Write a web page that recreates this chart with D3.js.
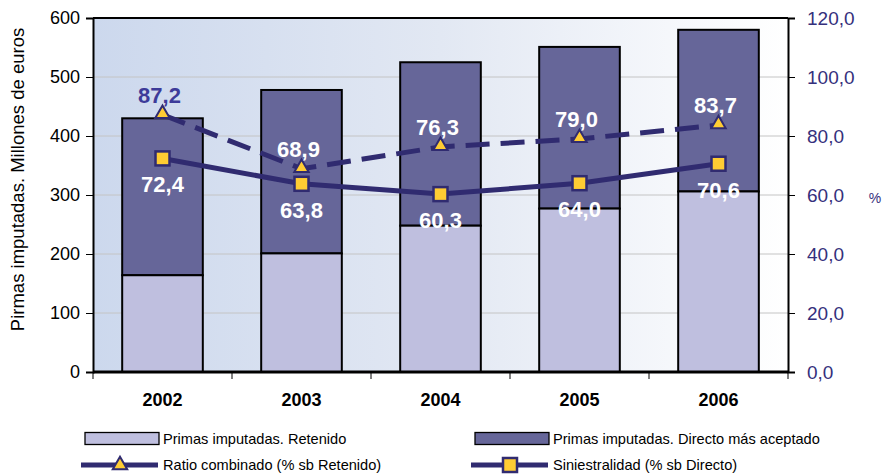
<!DOCTYPE html>
<html>
<head>
<meta charset="utf-8">
<script src="https://cdn.jsdelivr.net/npm/d3@7"></script>
<style>
  body { margin: 0; background: #fff; }
  svg { display: block; font-family: "Liberation Sans", Arial, sans-serif; }
  .grid line { stroke: #c4c4c4; stroke-width: 1; }
  .axis path, .axis line { stroke: #000; }
</style>
</head>
<body>
<svg id="chart" width="884" height="474"></svg>
<script>
const years = ['2002', '2003', '2004', '2005', '2006'];
const retenido = [164, 201, 248, 277, 306];
const directoTotal = [430, 478, 525, 551, 580];
const ratioCombinado = [87.2, 68.9, 76.3, 79.0, 83.7];
const siniestralidad = [72.4, 63.8, 60.3, 64.0, 70.6];
const leftTicks = [0, 100, 200, 300, 400, 500, 600];
const rightTicks = [0, 20, 40, 60, 80, 100, 120];

const W = 884, H = 474;
const plot = { left: 93, right: 788, top: 18, bottom: 372 };

const dark = '#666699', light = '#bfbfdf', lineCol = '#302b70', marker = '#ffcc33';
const fmt = d => d.toFixed(1).replace('.', ',');

const svg = d3.select('#chart');

// background gradient of the plot area
const defs = svg.append('defs');
const grad = defs.append('linearGradient').attr('id', 'bg')
  .attr('x1', '0%').attr('x2', '100%').attr('y1', '0%').attr('y2', '0%');
grad.append('stop').attr('offset', '0%').attr('stop-color', '#ccd8ed');
grad.append('stop').attr('offset', '50%').attr('stop-color', '#e2e8f3');
grad.append('stop').attr('offset', '100%').attr('stop-color', '#ffffff');

const x = d3.scaleBand(years, [plot.left, plot.right])
  .paddingInner(0.42).paddingOuter(0.21);
const yL = d3.scaleLinear([0, 600], [plot.bottom, plot.top]);
const yR = d3.scaleLinear([0, 120], [plot.bottom, plot.top]);

svg.append('rect')
  .attr('x', plot.left).attr('y', plot.top)
  .attr('width', plot.right - plot.left).attr('height', plot.bottom - plot.top)
  .attr('fill', 'url(#bg)');

// gridlines
svg.append('g').attr('class', 'grid')
  .selectAll('line').data(leftTicks.filter(d => d > 0 && d < 600)).join('line')
  .attr('x1', plot.left).attr('x2', plot.right)
  .attr('y1', d => yL(d)).attr('y2', d => yL(d));

// frame top
svg.append('line')
  .attr('x1', plot.left).attr('x2', plot.right)
  .attr('y1', plot.top).attr('y2', plot.top)
  .attr('stroke', '#000').attr('stroke-width', 2);

// stacked bars
const bars = svg.append('g');
bars.selectAll('rect.total').data(years).join('rect')
  .attr('class', 'total')
  .attr('x', d => x(d)).attr('width', x.bandwidth())
  .attr('y', (d, i) => yL(directoTotal[i]))
  .attr('height', (d, i) => yL(retenido[i]) - yL(directoTotal[i]))
  .attr('fill', dark).attr('stroke', '#000').attr('stroke-width', 2);
bars.selectAll('rect.ret').data(years).join('rect')
  .attr('class', 'ret')
  .attr('x', d => x(d)).attr('width', x.bandwidth())
  .attr('y', (d, i) => yL(retenido[i]))
  .attr('height', (d, i) => yL(0) - yL(retenido[i]))
  .attr('fill', light).attr('stroke', '#000').attr('stroke-width', 2);

// axes
const leftAxis = svg.append('g').attr('class', 'axis')
  .attr('transform', `translate(${plot.left},0)`)
  .call(d3.axisLeft(yL).tickValues(leftTicks).tickSize(7).tickPadding(6).tickFormat(d3.format('d')));
leftAxis.select('.domain').attr('stroke-width', 2);
leftAxis.selectAll('text').attr('font-size', 18).attr('fill', '#000');

const rightAxis = svg.append('g').attr('class', 'axis')
  .attr('transform', `translate(${plot.right},0)`)
  .call(d3.axisRight(yR).tickValues(rightTicks).tickSize(7).tickPadding(12).tickFormat(fmt));
rightAxis.select('.domain').attr('stroke-width', 2);
rightAxis.selectAll('text').attr('font-size', 19).attr('fill', '#35307c');

const step = x.step();
const bottomAxis = svg.append('g').attr('class', 'axis')
  .attr('transform', `translate(0,${plot.bottom})`);
bottomAxis.append('line')
  .attr('x1', plot.left).attr('x2', plot.right)
  .attr('stroke', '#000').attr('stroke-width', 3);
bottomAxis.selectAll('line.tick').data(d3.range(years.length + 1)).join('line')
  .attr('class', 'tick')
  .attr('x1', i => plot.left + i * step).attr('x2', i => plot.left + i * step)
  .attr('y1', 0).attr('y2', 7).attr('stroke', '#000');
bottomAxis.selectAll('text').data(years).join('text')
  .attr('x', d => x(d) + x.bandwidth() / 2).attr('y', 34)
  .attr('text-anchor', 'middle').attr('font-size', 18).attr('font-weight', 'bold')
  .text(d => d);

// y titles
svg.append('text')
  .attr('transform', `translate(24,${(plot.top + 333) / 2 + 4}) rotate(-90)`)
  .attr('text-anchor', 'middle').attr('font-size', 18.5)
  .text('Pirmas imputadas. Millones de euros');
svg.append('text')
  .attr('x', 875).attr('y', 203).attr('text-anchor', 'middle')
  .attr('font-size', 14).attr('fill', '#35307c').text('%');

// lines
const cx = d => x(d) + x.bandwidth() / 2;
const lineGen = vals => d3.line().x((d, i) => cx(years[i])).y(d => yR(d))(vals);

svg.append('path').attr('d', lineGen(ratioCombinado))
  .attr('fill', 'none').attr('stroke', lineCol).attr('stroke-width', 5)
  .attr('stroke-dasharray', '24,11');
svg.append('path').attr('d', lineGen(siniestralidad))
  .attr('fill', 'none').attr('stroke', lineCol).attr('stroke-width', 5);

const tri = d3.symbol().type(d3.symbolTriangle).size(90);
svg.append('g').selectAll('path').data(ratioCombinado).join('path')
  .attr('transform', (d, i) => `translate(${cx(years[i])},${yR(d) - 1})`)
  .attr('d', tri).attr('fill', marker).attr('stroke', lineCol).attr('stroke-width', 2);

svg.append('g').selectAll('rect').data(siniestralidad).join('rect')
  .attr('x', (d, i) => cx(years[i]) - 7).attr('y', d => yR(d) - 7)
  .attr('width', 14).attr('height', 14)
  .attr('fill', marker).attr('stroke', lineCol).attr('stroke-width', 2.5);

// data labels
svg.append('g').selectAll('text').data(ratioCombinado).join('text')
  .attr('x', (d, i) => cx(years[i]) - 3).attr('y', d => yR(d) - 12)
  .attr('text-anchor', 'middle').attr('font-size', 22).attr('font-weight', 'bold')
  .attr('fill', (d, i) => i === 0 ? '#3d3b99' : '#fff')
  .text(fmt);
svg.append('g').selectAll('text').data(siniestralidad).join('text')
  .attr('x', (d, i) => cx(years[i])).attr('y', d => yR(d) + 34)
  .attr('text-anchor', 'middle').attr('font-size', 22).attr('font-weight', 'bold')
  .attr('fill', '#fff')
  .text(fmt);

// legend
const legend = svg.append('g').attr('font-size', 14.6);
const legendBars = [
  { name: 'Primas imputadas. Retenido', color: light, x: 85 },
  { name: 'Primas imputadas. Directo más aceptado', color: dark, x: 475 }
];
legendBars.forEach(l => {
  legend.append('rect').attr('x', l.x).attr('y', 432.5).attr('width', 74).attr('height', 12)
    .attr('fill', l.color).attr('stroke', '#000').attr('stroke-width', 1.3);
  legend.append('text').attr('x', l.x + 78).attr('y', 444).text(l.name);
});

const legendLines = [
  { name: 'Ratio combinado (% sb Retenido)', x: 81, kind: 'tri' },
  { name: 'Siniestralidad (% sb Directo)', x: 471, kind: 'sq' }
];
legendLines.forEach(l => {
  const ly = 465;
  legend.append('line').attr('x1', l.x).attr('x2', l.x + 77).attr('y1', ly).attr('y2', ly)
    .attr('stroke', lineCol).attr('stroke-width', 5);
  const mx = l.x + 39;
  if (l.kind === 'tri') {
    legend.append('path').attr('transform', `translate(${mx},${ly})`)
      .attr('d', tri).attr('fill', marker).attr('stroke', lineCol).attr('stroke-width', 2);
  } else {
    legend.append('rect').attr('x', mx - 7).attr('y', ly - 7).attr('width', 14).attr('height', 14)
      .attr('fill', marker).attr('stroke', lineCol).attr('stroke-width', 2.5);
  }
  legend.append('text').attr('x', l.x + 82).attr('y', 470).text(l.name);
});
</script>
</body>
</html>
